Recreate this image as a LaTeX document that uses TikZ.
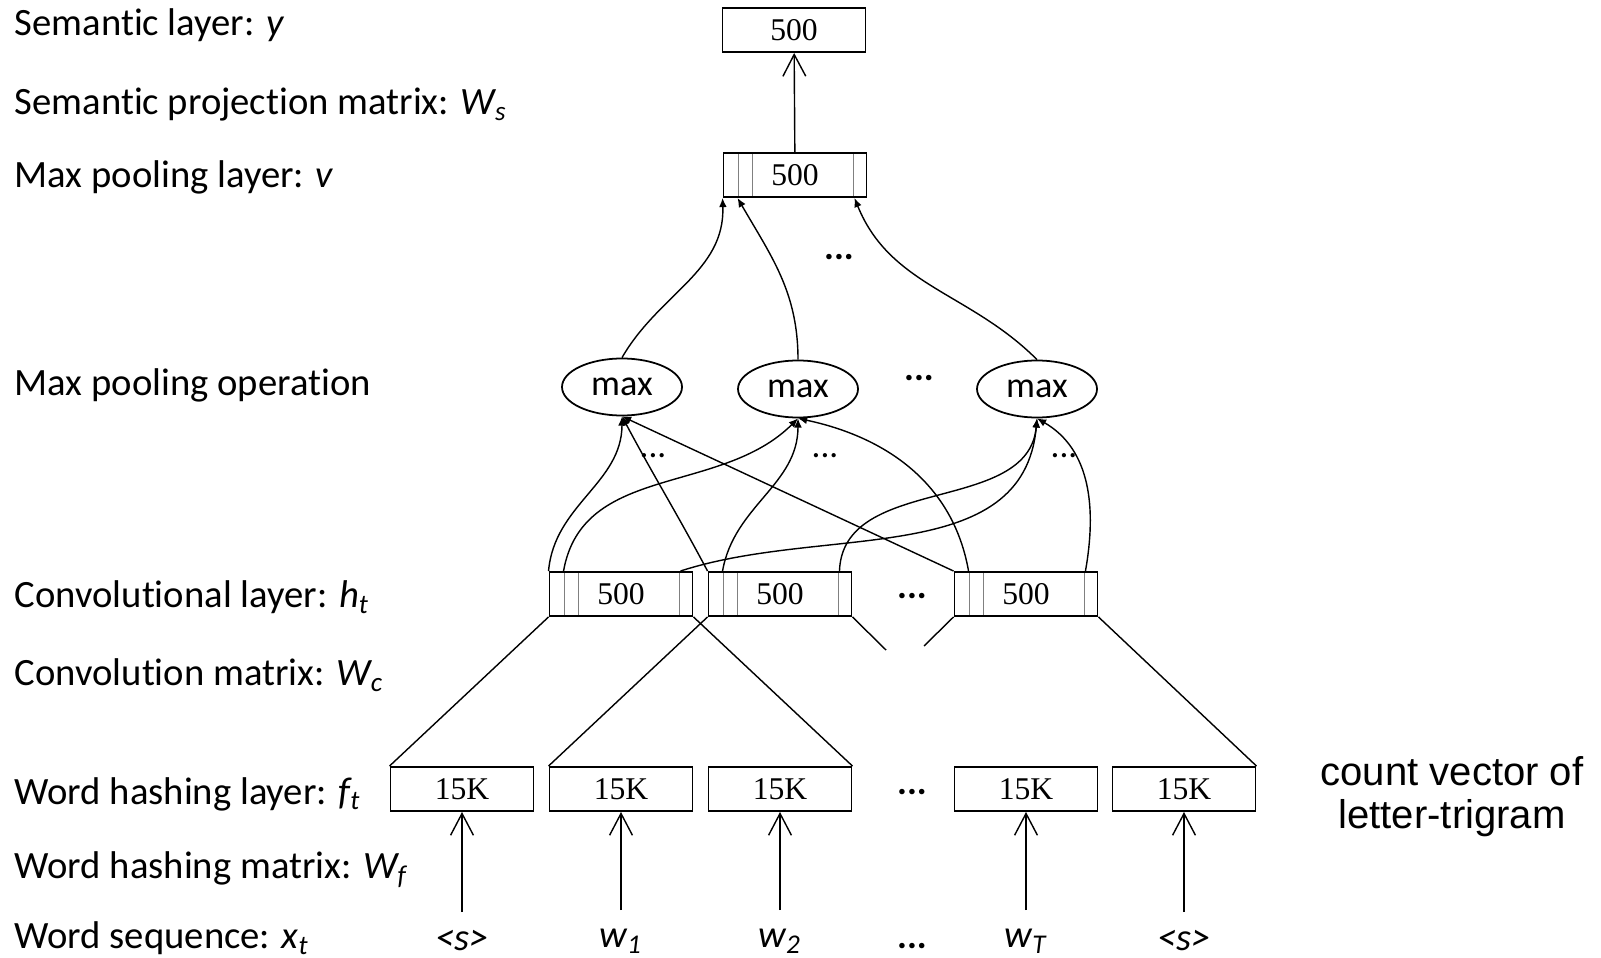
\documentclass[tikz,border=0pt]{standalone}
\usepackage{fontspec}
\setmainfont{Carlito}[Ligatures=NoCommon]
\newfontfamily\numfont{Liberation Serif}
\newfontfamily\notefont{Liberation Sans}
\usetikzlibrary{shapes.geometric,arrows.meta}

\tikzset{
	layer/.style   = {draw, fill=white, rectangle, minimum height=4.4mm, minimum width=14.3mm, inner sep=0pt, line width=0.55pt, font=\numfont\fontsize{9}{9}\selectfont},
	units/.style   = {layer, path picture={
		\foreach \s in {1.5mm,2.9mm}
			\draw[gray, line width=0.4pt] ([xshift=\s]path picture bounding box.north west) -- ([xshift=\s]path picture bounding box.south west);
		\draw[gray, line width=0.4pt] ([xshift=-1.3mm]path picture bounding box.north east) -- ([xshift=-1.3mm]path picture bounding box.south east);
	}},
	maxop/.style   = {draw, ellipse, minimum width=12mm, minimum height=5.7mm, inner sep=0pt, line width=0.5pt, font=\fontsize{10.3}{12}\selectfont},
	caption/.style = {anchor=west, inner sep=0pt, font=\fontsize{11}{12}\selectfont},
	word/.style    = {inner sep=0pt, font=\fontsize{11}{12}\selectfont\itshape},
	dots/.style    = {inner sep=0pt, font=\fontsize{10.5}{12}\selectfont\bfseries},
	smalldots/.style = {inner sep=0pt, font=\fontsize{10}{12}\selectfont},
	barb/.style    = {line width=0.4pt, -{Straight Barb[length=6.2pt,width=6.5pt]}},
	tip/.style     = {line width=0.4pt, -{Latex[length=2.6pt,width=2.2pt]}},
	hidden/.style  = {coordinate},
}

\begin{document}
\begin{tikzpicture}[x=0.1mm, y=-0.1mm]
	\useasboundingbox (0,0) rectangle (1601,958);

	% Names of the layers on the left
	\node[caption] (ly) at (14,25)  {Semantic layer: \textit{y}};
	\node[caption] (lws) at (14,105) {Semantic projection matrix: \textit{W\textsubscript{s}}};
	\node[caption] (lv) at (14,177) {Max pooling layer: \textit{v}};
	\node[caption] (lmax) at (14,385) {Max pooling operation};
	\node[caption] (lh) at (14,597) {Convolutional layer: \textit{h\textsubscript{t}}};
	\node[caption] (lwc) at (14,675) {Convolution matrix: \textit{W\textsubscript{c}}};
	\node[caption] (lf) at (14,794) {Word hashing layer: \textit{f\textsubscript{t}}};
	\node[caption] (lwf) at (14,870) {Word hashing matrix: \textit{W\textsubscript{f}}};
	\node[caption] (lx) at (14,938) {Word sequence: \textit{x\textsubscript{t}}};

	% Draw the layers
	\draw
	node[layer] (f1) at (462,789)  {15K}
	node[layer] (f2) at (621,789)  {15K}
	node[layer] (f3) at (780,789)  {15K}
	node[layer] (f4) at (1026,789) {15K}
	node[layer] (f5) at (1184,789) {15K}
	node[units] (h1) at (621,594)  {500}
	node[units] (h2) at (780,594)  {500}
	node[units] (h3) at (1026,594) {500}
	node[maxop] (m1) at (622,387)  {max}
	node[maxop] (m2) at (798,389)  {max}
	node[maxop] (m3) at (1037,389) {max}
	node[units] (v)  at (795,175)  {500}
	node[layer] (y)  at (794,30)   {500};

	% Words of the sequence
	\node[word] (x1) at (462,941)  {<s>};
	\node[word] (x2) at (621,941)  {w\textsubscript{1}};
	\node[word] (x3) at (780,941)  {w\textsubscript{2}};
	\node[word] (x4) at (1026,941) {w\textsubscript{T}};
	\node[word] (x5) at (1184,941) {<s>};

	% Dots for the elided positions
	\node[dots] (dx) at (912,946) {...};
	\node[dots] (df) at (912,792) {...};
	\node[dots] (dh) at (912,596) {...};
	\node[dots] (dm) at (919,378) {...};
	\node[dots] (dv) at (839,257) {...};
	\node[smalldots] (d1) at (653,456)  {...};
	\node[smalldots] (d2) at (825,456)  {...};
	\node[smalldots] (d3) at (1064,456) {...};

	\node[align=center, inner sep=0pt, font=\notefont\fontsize{11.4}{12.3}\selectfont] (note) at (1452,797) {count vector of\\letter-trigram};

	% Units inside the boxes
	\foreach \i in {1,2,3} {
		\coordinate (h\i-a) at (h\i.north west);
		\coordinate (h\i-b) at ([xshift=1.5mm]h\i.north west);
		\coordinate (h\i-c) at ([xshift=-1.3mm]h\i.north east);
	}
	\coordinate (v-a) at (v.south west);
	\coordinate (v-b) at ([xshift=1.5mm]v.south west);
	\coordinate (v-c) at ([xshift=-1.3mm]v.south east);
	\node[hidden] (cut2) at (886,650) {};
	\node[hidden] (cut3) at (924,646) {};

	% Word hashing
	\foreach \i in {1,...,5}
		\draw[barb, shorten <=1.8mm] (x\i) -- (f\i);

	% Convolution windows
	\draw[line width=0.4pt] (h1.south west) -- (f1.north west);
	\draw[line width=0.4pt] (h1.south east) -- (f3.north east);
	\draw[line width=0.4pt] (h2.south west) -- (f2.north west);
	\draw[line width=0.4pt] (h2.south east) -- (cut2);
	\draw[line width=0.4pt] (h3.south west) -- (cut3);
	\draw[line width=0.4pt] (h3.south east) -- (f5.north east);

	% Max pooling over time
	\draw[tip] (h1-a) to[out=85, in=-90] (m1.south);
	\draw[tip] (h2-a) to[out=118, in=-62] (m1.south);
	\draw[tip] (h3-a) -- (m1.south);
	\draw[tip] (h1-b) to[out=80, in=-135] (m2.south);
	\draw[tip] (h2-b) to[out=80, in=-90] (m2.south);
	\draw[tip] (h3-b) to[out=100, in=-12] (m2.south);
	\draw[tip] (h1-c) to[out=18, in=-95] (m3.south);
	\draw[tip] (h2-c) to[out=88, in=-95] (m3.south);
	\draw[tip] (h3-c) to[out=80, in=-30] (m3.south);

	\draw[tip] (m1.north) to[out=60, in=-88] (v-a);
	\draw[tip] (m2.north) to[out=90, in=-60] (v-b);
	\draw[tip] (m3.north) to[out=135, in=-68] (v-c);

	% Semantic projection
	\draw[barb] (v) -- (y);
\end{tikzpicture}
\end{document}
